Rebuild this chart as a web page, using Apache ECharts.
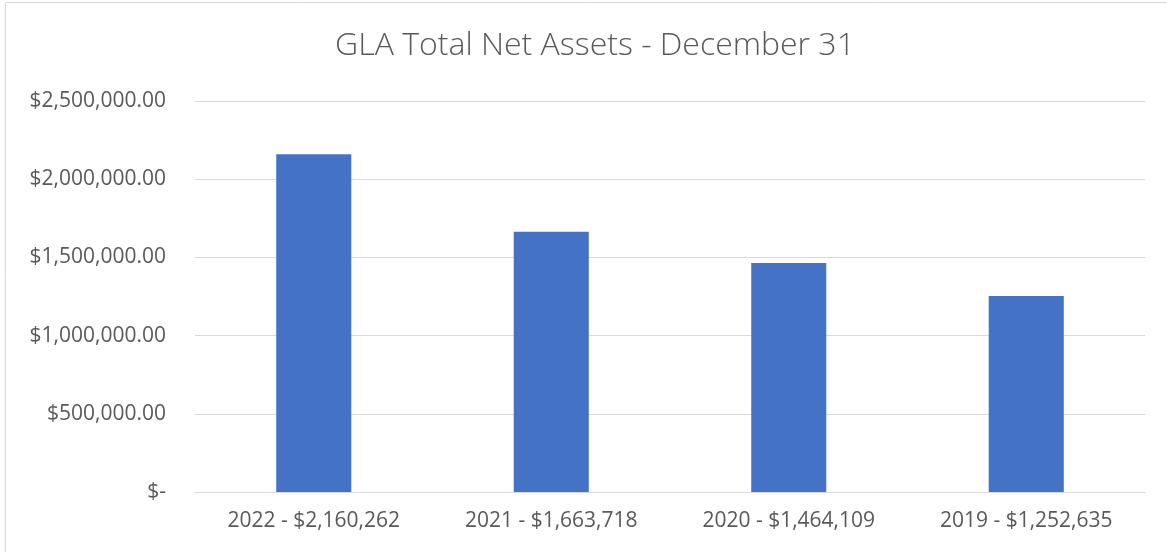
<!DOCTYPE html>
<html><head><meta charset="utf-8">
<script src="https://cdn.jsdelivr.net/npm/echarts@6/dist/echarts.min.js"></script>
<style>html,body{margin:0;padding:0;background:#fff;}#c{width:1167px;height:552px;}</style>
</head><body><div id="c"></div>
<script>
const title = 'GLA Total Net Assets - December 31';
const categories = ['2022 - $2,160,262', '2021 - $1,663,718', '2020 - $1,464,109', '2019 - $1,252,635'];
const values = [2160262, 1663718, 1464109, 1252635];
const yMin = 0, yMax = 2500000, yStep = 500000;

function fmt(v) {
  if (v === 0) return '$-';
  return '$' + v.toLocaleString('en-US', {minimumFractionDigits: 2, maximumFractionDigits: 2});
}
const chart = echarts.init(document.getElementById('c'));
const font = '"Open Sans", "Noto Sans", sans-serif';
chart.setOption({
  animation: false,
  textStyle: {fontFamily: font},
  title: {text: title, left: 590, textAlign: 'center', top: 25,
    textStyle: {fontFamily: font, fontSize: 32, fontWeight: 300, color: '#595959'}},
  graphic: [{type: 'rect', shape: {x: 5.5, y: 2.5, width: 1300, height: 700},
    style: {fill: 'none', stroke: '#d9d9d9', lineWidth: 1}, silent: true}],
  grid: {left: 195, right: 22, top: 101, bottom: 60, containLabel: false},
  xAxis: {type: 'category', data: categories,
    axisLine: {lineStyle: {color: '#d9d9d9', width: 1}}, axisTick: {show: false},
    axisLabel: {color: '#595959', fontSize: 21, fontFamily: font, margin: 19}},
  yAxis: {type: 'value', min: yMin, max: yMax, interval: yStep,
    axisLine: {show: false}, axisTick: {show: false},
    splitLine: {lineStyle: {color: '#d9d9d9', width: 1}},
    axisLabel: {color: '#595959', fontSize: 21, fontFamily: font, margin: 29, formatter: fmt}},
  series: [{type: 'bar', data: values, barWidth: '31.6%',
    itemStyle: {color: '#4472C4'}}]
});
</script></body></html>
